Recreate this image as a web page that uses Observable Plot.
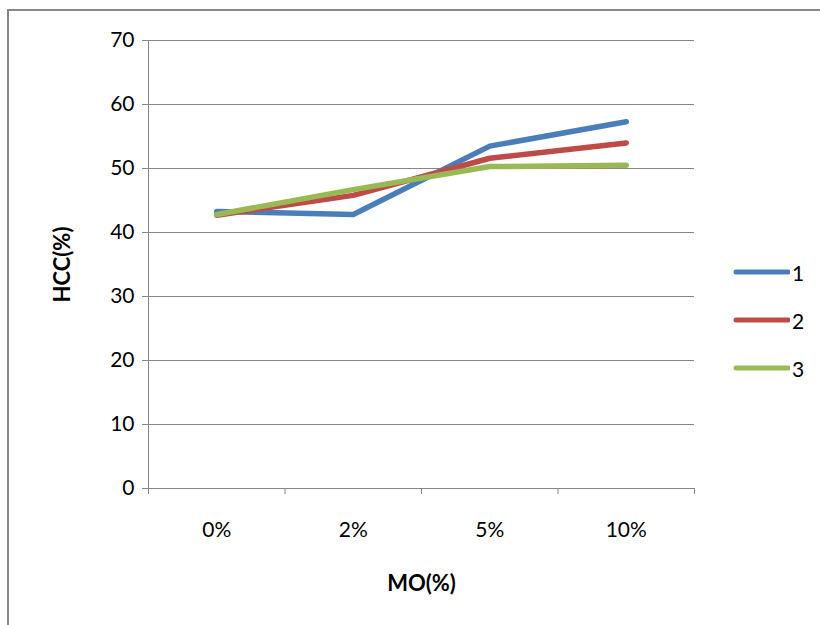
<!DOCTYPE html>
<html>
<head>
<meta charset="utf-8">
<script src="https://cdn.jsdelivr.net/npm/d3@7"></script>
<script src="https://cdn.jsdelivr.net/npm/@observablehq/plot@0.6"></script>
<style>
  html, body { margin: 0; padding: 0; background: #fff; overflow: hidden; }
  #wrap { position: relative; width: 820px; height: 625px; font-family: Lato, "Open Sans", sans-serif; }
  #frame { position: absolute; left: 7px; top: 9px; width: 900px; height: 700px; border: 2px solid #878787; box-sizing: border-box; }
  #chart { position: absolute; left: 0; top: 0; }
  #legend { position: absolute; left: 732px; top: 248px; font-size: 21px; color: #000; }
  .item { display: flex; align-items: center; height: 48px; }
  .item svg { margin-right: 2px; }
</style>
</head>
<body>
<div id="wrap">
  <div id="frame"></div>
  <div id="chart"></div>
  <div id="legend"></div>
</div>
<script>
// Categories along the x axis (MO content)
const categories = ["0%", "2%", "5%", "10%"];
// HCC (%) for each series
const series1 = [43.3, 42.8, 53.5, 57.3];
const series2 = [42.7, 45.8, 51.6, 54.0];
const series3 = [42.8, 46.7, 50.3, 50.5];
const seriesNames = ["1", "2", "3"];
const seriesColors = ["#4a7ebb", "#be4b48", "#98b954"];
const yTicks = [0, 10, 20, 30, 40, 50, 60, 70];

const allSeries = [series1, series2, series3];
const rows = allSeries.flatMap((vals, s) =>
  vals.map((v, i) => ({series: seriesNames[s], pos: i + 0.5, value: v}))
);

const axisGray = "#868686";

const chart = Plot.plot({
  width: 820,
  height: 625,
  marginLeft: 148,
  marginRight: 126,
  marginTop: 40,
  marginBottom: 137,
  style: {fontFamily: "Lato, 'Open Sans', sans-serif", fontSize: "21px", color: "#000", background: "transparent", overflow: "visible"},
  x: {domain: [0, categories.length]},
  y: {domain: [0, 70]},
  color: {domain: seriesNames, range: seriesColors},
  marks: [
    Plot.gridY(yTicks, {stroke: axisGray, strokeOpacity: 1, strokeWidth: 1}),
    Plot.ruleX([0], {stroke: axisGray, strokeWidth: 1}),
    Plot.ruleY([0], {stroke: axisGray, strokeWidth: 1}),
    Plot.axisY({ticks: yTicks, tickSize: 6, tickPadding: 8, stroke: axisGray, fill: "#000", label: null, fontSize: 21}),
    Plot.axisX({ticks: d3.range(categories.length + 1), tickSize: 6, stroke: axisGray, tickFormat: () => "", label: null}),
    Plot.axisX({ticks: categories.map((d, i) => i + 0.5), tickFormat: (d) => categories[Math.floor(d)], tickSize: 0, tickPadding: 34, fill: "#000", label: null, fontSize: 21}),
    Plot.text(["HCC(%)"], {frameAnchor: "left", dx: -86, rotate: -90, fontWeight: "bold", fontSize: 22, textAnchor: "middle", lineAnchor: "middle"}),
    Plot.text(["MO(%)"], {frameAnchor: "bottom", dy: 95, fontWeight: "bold", fontSize: 22, textAnchor: "middle", lineAnchor: "middle"}),
    Plot.line(rows, {x: "pos", y: "value", z: "series", stroke: "series", strokeWidth: 5.5, strokeLinecap: "round", strokeLinejoin: "round"})
  ]
});
document.getElementById("chart").appendChild(chart);

// Legend: one swatch line per series
const legend = d3.select("#legend");
seriesNames.forEach((name, i) => {
  const item = legend.append("div").attr("class", "item");
  const sw = item.append("svg").attr("width", 58).attr("height", 10);
  sw.append("line").attr("x1", 4).attr("x2", 56).attr("y1", 5).attr("y2", 5)
    .attr("stroke", seriesColors[i]).attr("stroke-width", 5).attr("stroke-linecap", "round");
  item.append("span").text(name);
});
</script>
</body>
</html>
